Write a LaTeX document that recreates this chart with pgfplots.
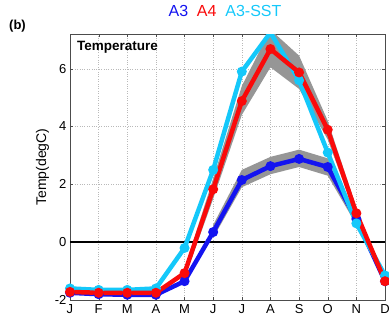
\documentclass[border=0pt]{standalone}
\usepackage{fontspec}
\setmainfont{Liberation Sans}
\usepackage{pgfplots}
\pgfplotsset{compat=1.18}
\definecolor{cA3}{RGB}{20,20,240}
\definecolor{cA4}{RGB}{250,10,10}
\definecolor{cSST}{RGB}{20,200,250}
\definecolor{band}{RGB}{150,150,150}
\begin{document}
\begin{tikzpicture}
\useasboundingbox (0,0) rectangle (389pt,322pt);
\begin{axis}[
  at={(70pt,22pt)}, anchor=south west,
  scale only axis, width=315pt, height=266pt,
  xmin=1, xmax=12, ymin=-2, ymax=7.2,
  xtick={1,...,12},
  xticklabels={J,F,M,A,M,J,J,A,S,O,N,D},
  ytick={-2,0,2,4,6},
  grid=major,
  grid style={dotted, gray!55},
  axis line style={gray!60!black, line width=0.9pt},
  tick style={gray!60!black},
  major tick length=3pt,
  tick align=inside,
  ticklabel style={font=\fontsize{13}{13}\selectfont},
  xticklabel style={yshift=-1pt},
  /pgf/number format/assume math mode=true,
  ylabel={Temp(degC)},
  ylabel style={font=\fontsize{14}{14}\selectfont, yshift=-1pt},
  clip=true,
]
% bands
\addplot[fill=band, draw=none, forget plot] coordinates {(6,0.15)(7,1.9)(8,2.35)(9,2.6)(10,2.3)(11,0.6)
(11,1.0)(10,2.9)(9,3.2)(8,2.95)(7,2.5)(6,0.6)} -- cycle;
\addplot[fill=band, draw=none, forget plot] coordinates {(5,-1.25)(6,1.5)(7,4.4)(8,6.05)(9,5.3)(10,3.55)(11,0.85)
(11,1.2)(10,4.2)(9,6.45)(8,7.35)(7,5.4)(6,2.2)(5,-0.9)} -- cycle;
% zero line
\addplot[black, line width=1.6pt, forget plot] coordinates {(1,0)(12,0)};
% A3
\addplot[cA3, line width=4.5pt, mark=*, mark size=2.6pt] coordinates {
(1,-1.75)(2,-1.8)(3,-1.82)(4,-1.82)(5,-1.35)(6,0.35)(7,2.15)(8,2.63)(9,2.88)(10,2.6)(11,0.8)(12,-1.35)};
% A3-SST
\addplot[cSST, line width=4.5pt, mark=*, mark size=2.6pt] coordinates {
(1,-1.6)(2,-1.65)(3,-1.65)(4,-1.6)(5,-0.2)(6,2.5)(7,5.9)(8,7.25)(9,5.6)(10,3.1)(11,0.65)(12,-1.15)};
% A4
\addplot[cA4, line width=4.5pt, mark=*, mark size=2.6pt] coordinates {
(1,-1.72)(2,-1.75)(3,-1.75)(4,-1.75)(5,-1.07)(6,1.83)(7,4.88)(8,6.68)(9,5.87)(10,3.89)(11,1.0)(12,-1.35)};
\node[anchor=north west, font=\bfseries\fontsize{13.5}{13.5}\selectfont, inner sep=0pt] at (rel axis cs:0.022,0.975) {Temperature};
\end{axis}
\node[anchor=base, font=\fontsize{16}{16}\selectfont, inner sep=0pt] at (225pt,305pt) {\textcolor{cA3}{A3}\hspace{0.55em}\textcolor{cA4}{A4}\hspace{0.55em}\textcolor{cSST}{A3-SST}};
\node[anchor=base west, font=\bfseries\fontsize{13}{13}\selectfont, inner sep=0pt] at (9pt,292pt) {(b)};
\end{tikzpicture}
\end{document}
